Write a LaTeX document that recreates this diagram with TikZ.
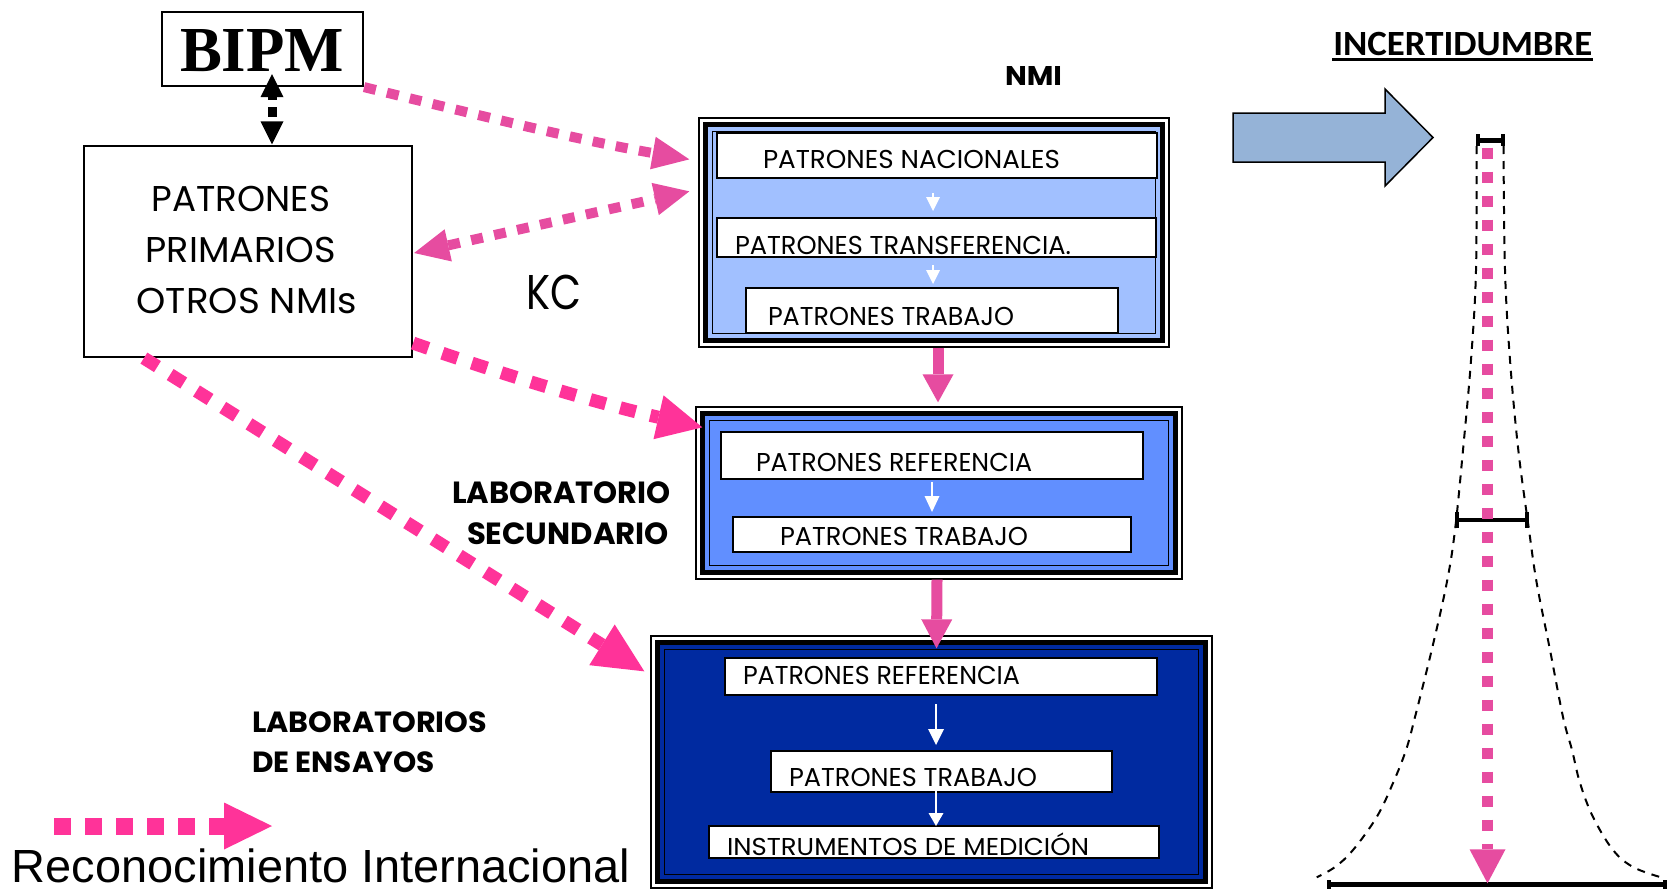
\documentclass[tikz,border=0pt]{standalone}
\usepackage{fontspec}
\usepackage{graphicx}
\usetikzlibrary{arrows.meta}
\newfontfamily\fGeo{Poppins}
\newfontfamily\fCarl{Carlito}
\newfontfamily\fArial{Liberation Sans}
\newfontfamily\fTimes{Liberation Serif}
\definecolor{pinkA}{RGB}{230,76,160}
\definecolor{pinkB}{RGB}{255,51,153}
\definecolor{nmiblue}{RGB}{161,192,255}
\definecolor{secblue}{RGB}{97,143,255}
\definecolor{ensblue}{RGB}{0,42,160}
\definecolor{arrowblue}{RGB}{149,179,215}
\newsavebox\capbox
\newcommand\fitcap[3]{\sbox\capbox{H}\resizebox{#1pt}{#2pt}{\raisebox{0pt}[\ht\capbox][0pt]{#3}}}
\newcommand\boxlayers[2]{%
  \draw[line width=5.5pt, fill=#2] ([shift={(7,7)}]#1.north west) rectangle ([shift={(-7,-7)}]#1.south east);
  \draw[line width=1.5pt] ([shift={(14,14)}]#1.north west) rectangle ([shift={(-14,-14)}]#1.south east);}
\tikzset{
  frame/.style={draw=black, line width=2.2pt, fill=white, inner sep=0pt},
  outerbox/.style={draw=black, line width=1.3pt, fill=white, inner sep=0pt},
  wbox/.style={draw=black, line width=2pt, fill=white, inner sep=0pt},
  txt/.style={inner sep=0pt, outer sep=0pt, anchor=base west},
  pinkdotA/.style={draw=pinkA, line width=10pt, dash pattern=on 12pt off 11.5pt},
  pinkdotB/.style={draw=pinkB, line width=13pt, dash pattern=on 16pt off 15pt},
  pinksolid/.style={draw=pinkA, line width=11pt, -{Triangle[length=28pt,width=31pt,line width=0pt]}},
  warrow/.style={draw=white, line width=2.5pt, -{Triangle[length=14pt,width=14pt,line width=0pt]}},
  tickline/.style={draw=black, line width=4pt},
  gauss/.style={draw=black, line width=2pt, dash pattern=on 8pt off 7pt},
}
\begin{document}
\begin{tikzpicture}[x=1pt,y=-1pt]
\useasboundingbox (0,0) rectangle (1667,889);

% ---------- BIPM and primary standards
\node[frame, minimum width=201pt, minimum height=74pt] (bipm) at (262.5,49) {};
\node[txt] (tbipm) at (180,71.7) {\fTimes\bfseries\fitcap{164}{42}{BIPM}};
\node[frame, minimum width=328pt, minimum height=211pt] (prim) at (248,251.5) {};
\node[txt] (tp1) at (151.7,211.7) {\fGeo\fitcap{178.3}{25}{PATRONES}};
\node[txt] (tp2) at (145.7,262.7) {\fGeo\fitcap{190.3}{25}{PRIMARIOS}};
\node[txt] (tp3) at (136.7,313.5) {\fGeo\fitcap{220}{25}{OTROS NMIs}};
\node[txt] (tkc) at (526.7,309.5) {\fGeo\fitcap{55}{34}{KC}};

% ---------- labels
\node[txt] (tnmi) at (1005,85) {\fGeo\bfseries\fitcap{57}{19}{NMI}};
\node[txt] (tls1) at (452,503) {\fGeo\bfseries\fitcap{219}{21.5}{LABORATORIO}};
\node[txt] (tls2) at (467,544.5) {\fGeo\bfseries\fitcap{202}{21.5}{SECUNDARIO}};
\node[txt] (tle1) at (252,732.3) {\fGeo\bfseries\fitcap{235}{20.5}{LABORATORIOS}};
\node[txt] (tle2) at (252,772.7) {\fGeo\bfseries\fitcap{183}{20.5}{DE ENSAYOS}};
\node[txt] (tinc) at (1333.3,55) {\fCarl\bfseries\fitcap{259}{23}{INCERTIDUMBRE}};
\draw[line width=2.5pt] ([shift={(-1,4.5)}]tinc.base west) -- ([shift={(1,4.5)}]tinc.base east);
\node[txt] (tleg) at (12,882.5) {\fArial\fitcap{618}{32}{Reconocimiento Internacional}};

% ---------- NMI box
\node[outerbox, minimum width=470pt, minimum height=229pt] (nmi) at (934,232.5) {};
\boxlayers{nmi}{nmiblue}
\node[wbox, minimum width=440pt, minimum height=45pt] (nac) at (937,155.5) {};
\node[txt] at (763,168.3) {\fGeo\fitcap{297}{18}{PATRONES NACIONALES}};
\node[wbox, minimum width=439pt, minimum height=39pt] (tra) at (936.5,237.5) {};
\node[txt] at (735,254) {\fGeo\fitcap{336}{18}{PATRONES TRANSFERENCIA.}};
\node[wbox, minimum width=372pt, minimum height=45pt] (ntrab) at (932,310.5) {};
\node[txt] at (768,325.5) {\fGeo\fitcap{246}{18}{PATRONES TRABAJO}};
\draw[warrow] ([shift={(-4,14)}]nac.south) -- ([shift={(-3.5,-6)}]tra.north);
\draw[warrow] ([shift={(-3.5,7)}]tra.south) -- ([shift={(1,-3)}]ntrab.north);

% ---------- Secondary lab box
\node[outerbox, minimum width=486pt, minimum height=172pt] (sec) at (939,493) {};
\boxlayers{sec}{secblue}
\node[wbox, minimum width=422pt, minimum height=47pt] (sref) at (932,455.5) {};
\node[txt] at (756,471) {\fGeo\fitcap{276}{18}{PATRONES REFERENCIA}};
\node[wbox, minimum width=398pt, minimum height=35pt] (strab) at (932,534.5) {};
\node[txt] at (780,545.7) {\fGeo\fitcap{248}{18}{PATRONES TRABAJO}};
\draw[warrow, -{Triangle[length=16pt,width=15pt,line width=0pt]}] ([shift={(0,2)}]sref.south) -- ([shift={(0,-4)}]strab.north);

% ---------- Testing lab box
\node[outerbox, minimum width=561pt, minimum height=252pt] (ens) at (931.5,762) {};
\boxlayers{ens}{ensblue}
\node[wbox, minimum width=432pt, minimum height=37pt] (eref) at (941,676.5) {};
\node[txt] at (743,684) {\fGeo\fitcap{277}{18}{PATRONES REFERENCIA}};
\node[wbox, minimum width=341pt, minimum height=41pt] (etrab) at (941.5,771.5) {};
\node[txt] at (789,786.7) {\fGeo\fitcap{248}{18}{PATRONES TRABAJO}};
\node[wbox, minimum width=450pt, minimum height=32pt] (einst) at (934,842) {};
\node[txt] at (727,855) {\fGeo\fitcap{362}{17}{INSTRUMENTOS DE MEDICIÓN}};
\draw[warrow, -{Triangle[length=16pt,width=16pt,line width=0pt]}] ([shift={(-5,8)}]eref.south) -- ([shift={(-5.5,-5)}]etrab.north);
\draw[warrow, -{Triangle[length=13pt,width=15pt,line width=0pt]}] ([shift={(-5.5,-2)}]etrab.south) -- ([shift={(2,1)}]einst.north);

% ---------- pink connectors
\draw[pinkdotA, -{Triangle[length=37pt,width=33pt,line width=0pt]}]
  (bipm.south east) .. controls +(110,27) and +(-110,-19) .. ([shift={(-9,42)}]nmi.north west);
\draw[pinkdotA, {Triangle[length=35pt,width=33pt,line width=0pt]}-{Triangle[length=35pt,width=33pt,line width=0pt]}]
  ([shift={(1,1.5)}]prim.east) -- ([shift={(-9,74)}]nmi.north west);
\draw[pinkdotB, -{Triangle[length=45pt,width=45pt,line width=0pt]}]
  ([shift={(0,-15)}]prim.south east) .. controls +(100,35) and +(-100,-23) .. ([shift={(7,21)}]sec.north west);
\draw[pinkdotB, -{Triangle[length=50pt,width=48pt,line width=0pt]}]
  ([shift={(61,0)}]prim.south west) -- ([shift={(-6,36)}]ens.north west);
\draw[pinksolid] ([shift={(4,0)}]nmi.south) -- ([shift={(-1,-4)}]sec.north);
\draw[pinksolid, -{Triangle[length=29pt,width=31pt,line width=0pt]}] ([shift={(-2,0)}]sec.south) -- ([shift={(5,13)}]ens.north);

% BIPM <-> primary
\draw[black, line width=9pt, dash pattern=on 3pt off 7pt on 10pt off 6pt,
  {Triangle[length=23pt,width=23pt,line width=0pt]}-{Triangle[length=23pt,width=23pt,line width=0pt]}]
  ([shift={(9.5,-13)}]bipm.south) -- ([shift={(24,-0.5)}]prim.north);

% legend arrow
\coordinate (lg1) at (54,826);
\coordinate (lg2) at (272,826);
\draw[draw=pinkB, line width=17pt, dash pattern=on 16.5pt off 14.5pt, -{Triangle[length=48pt,width=47pt,line width=0pt]}] (lg1) -- (lg2);

% ---------- uncertainty figure
\draw[line width=1.5pt, fill=arrowblue] (1233,113) -- (1385,113) -- (1385,89) -- (1433,137.5) -- (1385,186) -- (1385,162) -- (1233,162) -- cycle;

\draw[gauss] plot[smooth, tension=0.6] coordinates {(1476.5,146) (1476,270) (1471,360) (1463,450) (1455,530) (1446.7,583) (1431.7,650) (1415,717) (1406,750) (1393,783) (1376.7,817) (1353,850) (1335,867) (1316.7,877.3)};
\draw[gauss] plot[smooth, tension=0.6] coordinates {(1503.5,146) (1505,270) (1510,360) (1518.3,450) (1529,530) (1536.7,583) (1550,650) (1563,717) (1572,750) (1580,783) (1593,817) (1613,850) (1633,867) (1660,877)};

\draw[line width=5pt] (1477,140) -- (1504,140);
\draw[tickline] (1478,134) -- (1478,146);
\draw[tickline] (1503,134) -- (1503,146);
\draw[line width=4pt] (1456,519.7) -- (1528,519.7);
\draw[tickline] (1457,511.7) -- (1457,527.5);
\draw[tickline] (1527,511.7) -- (1527,527.5);
\draw[line width=4.4pt] (1328,884.3) -- (1665,884.3);
\draw[tickline] (1329,880) -- (1329,888.5);
\draw[tickline] (1664.5,880) -- (1664.5,888.5);

\coordinate (pv1) at (1487.5,147.7);
\coordinate (pv2) at (1487.5,883.3);
\draw[draw=pinkA, line width=11.7pt, dash pattern=on 11.6pt off 12.4pt, -{Triangle[length=34pt,width=36pt,line width=0pt]}] (pv1) -- (pv2);
\end{tikzpicture}
\end{document}
